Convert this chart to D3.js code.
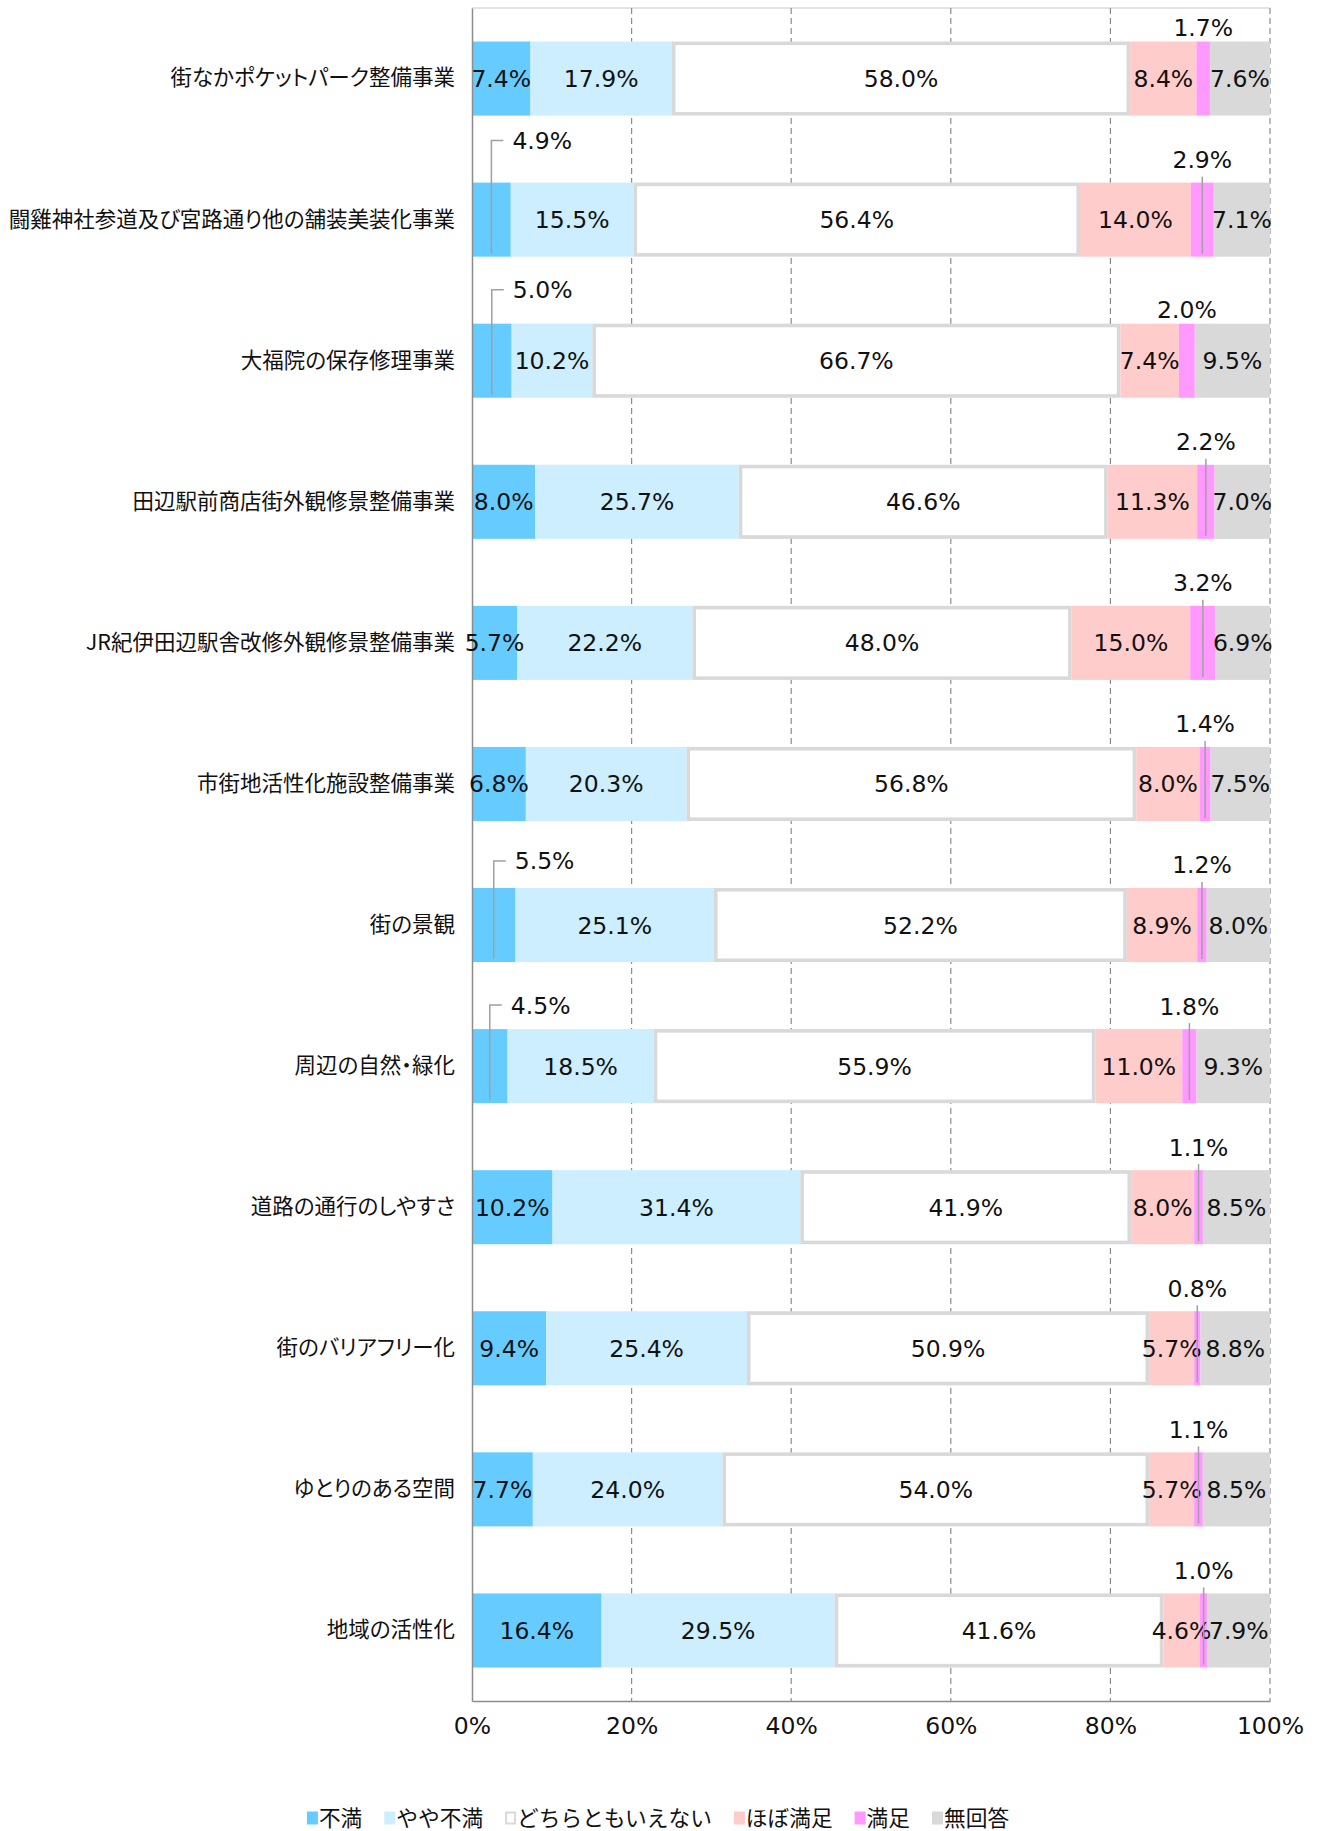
<!DOCTYPE html>
<html>
<head>
<meta charset="utf-8">
<script src="https://cdn.jsdelivr.net/npm/d3@7"></script>
<style>
  body { margin: 0; background: #fff; }
  text { font-family: "Noto Sans CJK JP", sans-serif; fill: #111; }
  .num { font-family: "DejaVu Sans", sans-serif; font-size: 23.5px; }
</style>
</head>
<body>
<svg id="chart"></svg>
<script>
// categories (top to bottom)
var categories = [
  "街なかポケットパーク整備事業",
  "闘雞神社参道及び宮路通り他の舗装美装化事業",
  "大福院の保存修理事業",
  "田辺駅前商店街外観修景整備事業",
  "JR紀伊田辺駅舎改修外観修景整備事業",
  "市街地活性化施設整備事業",
  "街の景観",
  "周辺の自然・緑化",
  "道路の通行のしやすさ",
  "街のバリアフリー化",
  "ゆとりのある空間",
  "地域の活性化"
];

// series values (%)
var fuman      = [7.4, 4.9, 5.0, 8.0, 5.7, 6.8, 5.5, 4.5, 10.2, 9.4, 7.7, 16.4];
var yayaFuman  = [17.9, 15.5, 10.2, 25.7, 22.2, 20.3, 25.1, 18.5, 31.4, 25.4, 24.0, 29.5];
var dochiramo  = [58.0, 56.4, 66.7, 46.6, 48.0, 56.8, 52.2, 55.9, 41.9, 50.9, 54.0, 41.6];
var hoboManzoku = [8.4, 14.0, 7.4, 11.3, 15.0, 8.0, 8.9, 11.0, 8.0, 5.7, 5.7, 4.6];
var manzoku    = [1.7, 2.9, 2.0, 2.2, 3.2, 1.4, 1.2, 1.8, 1.1, 0.8, 1.1, 1.0];
var mukaitou   = [7.6, 7.1, 9.5, 7.0, 6.9, 7.5, 8.0, 9.3, 8.5, 8.8, 8.5, 7.9];

var seriesNames = ["不満", "やや不満", "どちらともいえない", "ほぼ満足", "満足", "無回答"];
var xTicks = [0, 0.2, 0.4, 0.6, 0.8, 1.0];

// which small labels get a callout line
var leftCallout = [1, 2, 6, 7];                   // 不満 label above-left
var rightNoLine = [0, 2];                         // 満足 label above, no leader
var leftRise = { 1: 42, 2: 34, 6: 27, 7: 24 };    // label height above bar

var colors = ["#66ccff", "#cceeff", "#ffffff", "#ffcccc", "#ff99ff", "#d9d9d9"];

// dimensions
var margin = { left: 472, right: 47, top: 8, bottom: 130 },
    width = 1317 - margin.left - margin.right,
    height = 1831 - margin.top - margin.bottom;

var svg = d3.select("#chart")
  .attr("width", 1317)
  .attr("height", 1831);
var g = svg.append("g")
  .attr("transform", "translate(" + margin.left + "," + margin.top + ")");

// build rows for the stack
var rows = categories.map(function(c, i) {
  return { cat: c, "不満": fuman[i], "やや不満": yayaFuman[i], "どちらともいえない": dochiramo[i],
           "ほぼ満足": hoboManzoku[i], "満足": manzoku[i], "無回答": mukaitou[i] };
});
var stacked = d3.stack().keys(seriesNames).offset(d3.stackOffsetExpand)(rows);

// scales
var x = d3.scaleLinear().domain([0, 1]).range([0, width]);
var y = d3.scaleBand().domain(categories).range([0, height])
    .paddingInner(0.475).paddingOuter(0.2375);

// top border
g.append("line")
  .attr("x1", 0).attr("x2", width).attr("y1", 0).attr("y2", 0)
  .attr("stroke", "#c8c8c8").attr("stroke-width", 1.2);

// gridlines
g.selectAll(".grid")
  .data(xTicks.slice(1))
  .enter().append("line")
  .attr("class", "grid")
  .attr("x1", function(d) { return x(d); })
  .attr("x2", function(d) { return x(d); })
  .attr("y1", 0).attr("y2", height)
  .attr("stroke", "#8c8c8c")
  .attr("stroke-width", 1.2)
  .attr("stroke-dasharray", "6,4");

// bars
var layer = g.selectAll(".layer")
  .data(stacked)
  .enter().append("g")
  .attr("class", "layer");

layer.each(function(s, k) {
  var sw = k === 2 ? 3.6 : 0;
  d3.select(this).selectAll("rect")
    .data(s)
    .enter().append("rect")
    .attr("x", function(d) { return x(d[0]) + sw / 2; })
    .attr("y", function(d) { return y(d.data.cat) + sw / 2; })
    .attr("width", function(d) { return Math.max(0, x(d[1]) - x(d[0]) - sw); })
    .attr("height", y.bandwidth() - sw)
    .attr("fill", colors[k])
    .attr("stroke", k === 2 ? "#d9d9d9" : "none")
    .attr("stroke-width", sw);
});

// axes
var xAxis = g.append("g")
  .attr("transform", "translate(0," + height + ")")
  .call(d3.axisBottom(x).tickValues(xTicks).tickSize(0).tickSizeOuter(0)
    .tickPadding(16).tickFormat(d3.format(".0%")));
xAxis.select(".domain").attr("stroke", "#8c8c8c").attr("stroke-width", 1.5);
xAxis.selectAll("text").attr("class", "num").attr("fill", "#111");

var yAxis = g.append("g")
  .call(d3.axisLeft(y).tickSize(0).tickSizeOuter(0).tickPadding(17));
yAxis.select(".domain").attr("stroke", "#8c8c8c").attr("stroke-width", 1.5);
yAxis.selectAll("text")
  .style("font-family", "'Noto Sans CJK JP', sans-serif")
  .style("font-size", "21.5px")
  .style("font-feature-settings", "'palt'")
  .attr("fill", "#111");

// value labels
var fmt = function(v) { return v.toFixed(1) + "%"; };
var lineColor = "#a0a0a0";

stacked.forEach(function(s, k) {
  s.forEach(function(d, i) {
    var v = d.data[seriesNames[k]],
        cx = (x(d[0]) + x(d[1])) / 2,
        top = y(d.data.cat),
        bot = top + y.bandwidth(),
        cy = top + y.bandwidth() / 2;

    if (k === 0 && leftCallout.indexOf(i) >= 0) {
      var ly = top - leftRise[i];
      g.append("path")
        .attr("d", "M" + cx + "," + (bot - 3) + "V" + ly + "H" + (cx + 12))
        .attr("fill", "none").attr("stroke", lineColor).attr("stroke-width", 1.5);
      g.append("text").attr("class", "num")
        .attr("x", cx + 21).attr("y", ly).attr("dy", "0.36em")
        .text(fmt(v));
    } else if (k === 4) {
      var noLine = rightNoLine.indexOf(i) >= 0,
          ty = noLine ? top - 14 : top - 23;
      if (!noLine) {
        g.append("line")
          .attr("x1", cx).attr("x2", cx)
          .attr("y1", top - 6).attr("y2", bot - 3)
          .attr("stroke", lineColor).attr("stroke-width", 1.5);
      }
      g.append("text").attr("class", "num")
        .attr("x", cx).attr("y", ty).attr("dy", "0.36em")
        .attr("text-anchor", "middle")
        .text(fmt(v));
    } else {
      g.append("text").attr("class", "num")
        .attr("x", cx).attr("y", cy).attr("dy", "0.36em")
        .attr("text-anchor", "middle")
        .text(fmt(v));
    }
  });
});

// legend, centred on the page
var legend = svg.append("g").attr("transform", "translate(0,1818)");
var lx = 0;
seriesNames.forEach(function(name, k) {
  var item = legend.append("g").attr("transform", "translate(" + lx + ",0)");
  item.append("rect")
    .attr("x", k === 2 ? 1 : 0).attr("y", -6.5 + (k === 2 ? 1 : 0))
    .attr("width", k === 2 ? 9 : 11).attr("height", k === 2 ? 11 : 13)
    .attr("fill", colors[k])
    .attr("stroke", k === 2 ? "#d9d9d9" : "none")
    .attr("stroke-width", 2);
  var t = item.append("text")
    .attr("x", 12).attr("y", 0).attr("dy", "0.36em")
    .style("font-size", "21.7px")
    .text(name);
  lx += 12 + t.node().getComputedTextLength() + 22;
});
lx -= 22;
legend.attr("transform", "translate(" + (658 - lx / 2) + ",1818)");
</script>
</body>
</html>
